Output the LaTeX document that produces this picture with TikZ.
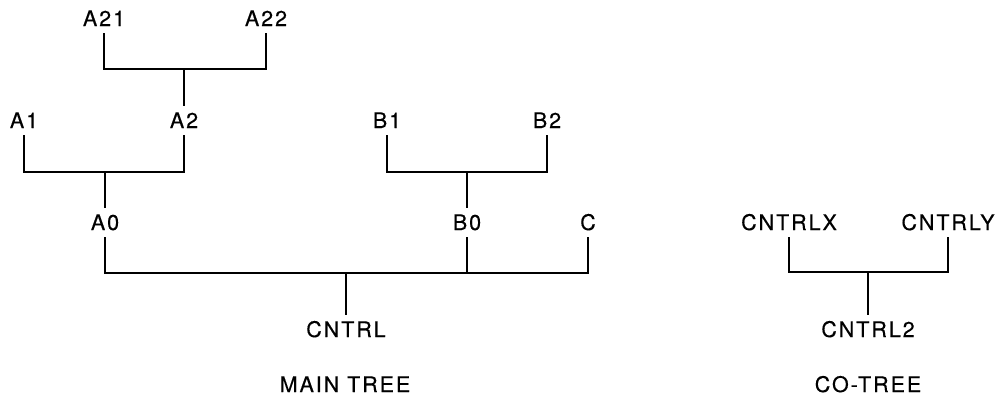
\documentclass[tikz,border=0pt]{standalone}
\usepackage{fontspec}
\newfontfamily\lblfont[LetterSpace=9,FakeBold=0.4]{TeX Gyre Heros}
\begin{document}
\begin{tikzpicture}[x=1pt,y=-1pt, line width=2.2pt,
 lbl/.style={font=\lblfont\fontsize{21.5}{25}\selectfont, inner sep=6pt, text height=15pt, text depth=0pt, anchor=base}]
\useasboundingbox[fill=white] (0,0) rectangle (1000,400);
\node[lbl] (A21) at (104,26) {A21};
\node[lbl] (A22) at (266,26) {A22};
\node[lbl] (A2) at (184,128) {A2};
\node[lbl] (A1) at (24,128) {A1};
\node[lbl] (A0) at (105,230) {A0};
\node[lbl] (B1) at (387,128) {B1};
\node[lbl] (B2) at (547,128) {B2};
\node[lbl] (B0) at (467,230) {B0};
\node[lbl] (C) at (588,230) {C};
\node[lbl] (CNTRL) at (346,337) {CNTRL};
\node[lbl] (main) at (345,392) {MAIN TREE};
\node[lbl] (X) at (789,230) {CNTRLX};
\node[lbl] (Y) at (948,230) {CNTRLY};
\node[lbl] (C2) at (868,337) {CNTRL2};
\node[lbl] (co) at (868,392) {CO-TREE};
\coordinate (jA2) at (184,69);
\coordinate (jA0) at (105,172);
\coordinate (jB0) at (467,172);
\coordinate (jC) at (346,273);
\coordinate (jC2) at (868,272);
\draw (A21) |- (jA2) -| (A22);
\draw (jA2) -- (A2);
\draw (A1) |- (jA0) -| (A2);
\draw (jA0) -- (A0);
\draw (B1) |- (jB0) -| (B2);
\draw (jB0) -- (B0);
\draw (A0) |- (jC) -| (C);
\draw (B0) -- (B0 |- jC);
\draw (jC) -- (CNTRL);
\draw (X) |- (jC2) -| (Y);
\draw (jC2) -- (C2);
\end{tikzpicture}
\end{document}
